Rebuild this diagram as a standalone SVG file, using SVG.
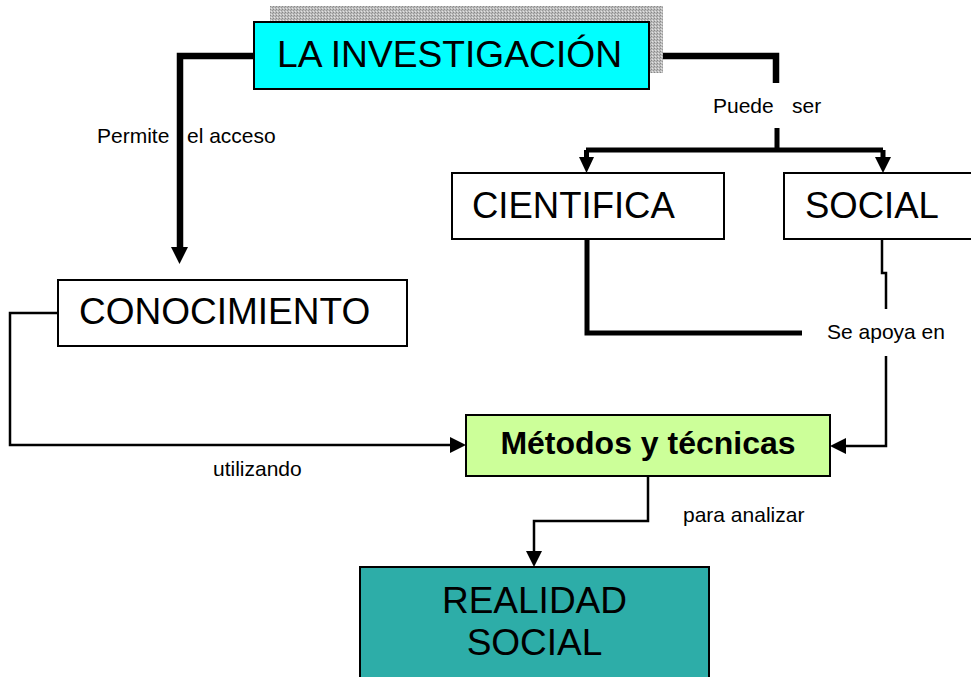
<svg xmlns="http://www.w3.org/2000/svg" width="971" height="677" viewBox="0 0 971 677">
<style>
.box{stroke:#000;stroke-width:2}
.big{font-family:"Liberation Sans",Arial,sans-serif;font-size:37px;fill:#000}
.lbl{font-family:"Liberation Sans",Arial,sans-serif;font-size:21px;fill:#000}
.bold{font-family:"Liberation Sans",Arial,sans-serif;font-size:32px;font-weight:bold;fill:#000}
.thick{fill:none;stroke:#000;stroke-width:6.5}
.med{fill:none;stroke:#000;stroke-width:5}
.thin{fill:none;stroke:#000;stroke-width:2.5}
.ah{fill:#000}
</style>
<defs>
<pattern id="dither" width="3" height="3" patternUnits="userSpaceOnUse">
<rect width="3" height="3" fill="#bcbcbc"/>
<rect x="0" y="0" width="1" height="1" fill="#888"/>
<rect x="2" y="1" width="1" height="1" fill="#999"/>
<rect x="1" y="2" width="1" height="1" fill="#e4e4e4"/>
</pattern>
</defs>
<rect width="971" height="677" fill="#fff"/>
<g id="connectors">
<path class="thick" d="M254,56 H180 V250"/>
<polygon class="ah" points="171,247 188,247 179.5,264"/>
<path class="thick" d="M649,56 H776 V83"/>
<path class="med" d="M777,128 V150 M586,150 H883 M586.5,150 V160 M883,150 V160"/>
<polygon class="ah" points="579,157 594,157 586.5,173"/>
<polygon class="ah" points="875,157 891,157 883,173"/>
<path class="med" d="M587,239 V333 H802"/>
<path class="thin" d="M882,239 V273 H886 V309"/>
<path class="thin" d="M886,356 V446 H846"/>
<polygon class="ah" points="830,446 846,438 846,454"/>
<path class="thin" d="M58,313 H10 V445 H452"/>
<polygon class="ah" points="466,445 450,437 450,453"/>
<path class="thin" d="M648,476 V521 H534 V553"/>
<polygon class="ah" points="534,567 526,551 542,551"/>
<text class="lbl" x="97" y="143">Permite </text>
<text class="lbl" x="187" y="143">el acceso</text>
<text class="lbl" y="113"><tspan x="713">Puede</tspan> <tspan x="792">ser</tspan></text>
<text class="lbl" x="827" y="339">Se apoya en</text>
<text class="lbl" x="213" y="476">utilizando</text>
<text class="lbl" x="683" y="522">para analizar</text>
</g>
<g id="investigacion">
<rect x="270" y="6" width="393" height="67" fill="url(#dither)"/>
<rect class="box" x="254" y="22" width="395" height="67" fill="#00ffff"/>
<text class="big" x="277" y="67" textLength="345" lengthAdjust="spacingAndGlyphs">LA INVESTIGACIÓN</text>
</g>
<g id="cientifica">
<rect class="box" x="452" y="173" width="272" height="66" fill="#fff"/>
<text class="big" x="472" y="218" style="font-size:36.5px">CIENTIFICA</text>
</g>
<g id="social">
<rect class="box" x="784" y="173" width="200" height="66" fill="#fff"/>
<text class="big" x="805" y="218" style="font-size:36.5px">SOCIAL</text>
</g>
<g id="conocimiento">
<rect class="box" x="58" y="280" width="349" height="66" fill="#fff"/>
<text class="big" x="79" y="324">CONOCIMIENTO</text>
</g>
<g id="metodos">
<rect class="box" x="466" y="415" width="364" height="61" fill="#ccff99"/>
<text class="bold" x="648" y="454" text-anchor="middle">Métodos y técnicas</text>
</g>
<g id="realidad">
<rect class="box" x="360" y="567" width="349" height="130" fill="#2dada8"/>
<text class="big" x="534.5" y="613" text-anchor="middle">REALIDAD</text>
<text class="big" x="534.5" y="655" text-anchor="middle">SOCIAL</text>
</g>
</svg>
